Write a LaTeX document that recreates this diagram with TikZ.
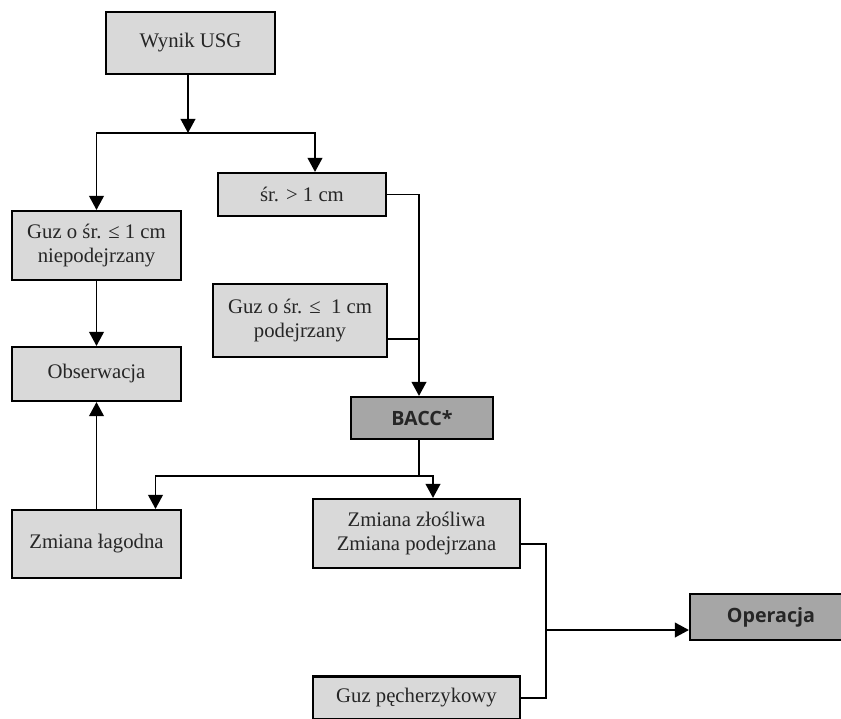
\documentclass[tikz,border=0pt]{standalone}
\usepackage{fontspec}
\setmainfont{Liberation Serif}
\newfontfamily\headfont{Open Sans}
\usetikzlibrary{positioning, calc, arrows.meta}
\definecolor{boxgray}{RGB}{217,217,217}
\definecolor{darkgray}{RGB}{166,166,166}

\begin{document}
\begin{tikzpicture}[x=0.03cm, y=-0.03cm,
  every node/.style={font=\fontsize{17.7}{20.5}\selectfont, text=black!85},
  box/.style={draw, line width=1.8pt, fill=boxgray, align=center, inner sep=0pt},
  keybox/.style={box, fill=darkgray, font=\headfont\bfseries\fontsize{16.8}{19}\selectfont},
  link/.style={line width=1.6pt},
  arr/.style={link, -{Triangle[length=12pt,width=12.5pt]}}]
  \clip (0,0) rectangle (841,718);
  % boxes
  \node[box, minimum width=5.07cm, minimum height=1.86cm] (usg) at (190.5,43) {Wynik USG};
  \node[box, minimum width=5.07cm, minimum height=2.07cm] (niepod) at (96.5,245.5) {Guz o śr. ≤ 1 cm\\niepodejrzany};
  \node[box, minimum width=5.04cm, minimum height=1.29cm] (sr) at (302,194.5) {śr. > 1 cm};
  \node[box, minimum width=5.07cm, minimum height=1.62cm] (obs) at (96.5,374) {Obserwacja};
  \node[box, minimum width=5.22cm, minimum height=2.19cm] (pod) at (300,320.5) {Guz o śr. ≤~ 1 cm\\podejrzany};
  \node[keybox, minimum width=4.26cm, minimum height=1.26cm] (bacc) at (422,418) {BACC*};
  \node[box, minimum width=5.07cm, minimum height=2.04cm] (lag) at (96.5,544) {Zmiana łagodna};
  \node[box, minimum width=6.21cm, minimum height=2.07cm] (zlo) at (416.5,533.5) {Zmiana złośliwa\\Zmiana podejrzana};
  \node[keybox, minimum width=5.4cm, minimum height=1.38cm] (oper) at (780,617) {\hspace*{-0.54cm}Operacja};
  \node[box, minimum width=6.21cm, minimum height=1.29cm] (pech) at (416.5,698) {Guz pęcherzykowy};
  % connectors
  \coordinate (split) at (188,133);
  \coordinate (join) at (419,339);
  \coordinate (fork) at (419,476);
  \coordinate (merge) at (546,630);
  \draw[arr] (usg.south -| split) -- (split);
  \draw[arr] (split) -| (niepod.north);
  \draw[arr] (split) -| ($(sr.north)+(13,0)$);
  \draw[link] (sr.east) -| (join);
  \draw[link] (pod.east |- join) -- (join);
  \draw[arr] (join) -- (join |- bacc.north);
  \draw[link] (bacc.south -| fork) -- (fork);
  \draw[arr] (fork) -| ($(lag.north)+(59,0)$);
  \draw[arr] (fork) -| ($(zlo.north)+(16.5,0)$);
  \draw[arr] (niepod.south) -- (obs.north);
  \draw[arr] (lag.north) -- (obs.south);
  \draw[link] ($(zlo.east)+(0,10.5)$) -| (merge) |- (pech.east);
  \draw[arr] (merge) -- (merge -| oper.west);
\end{tikzpicture}
\end{document}
